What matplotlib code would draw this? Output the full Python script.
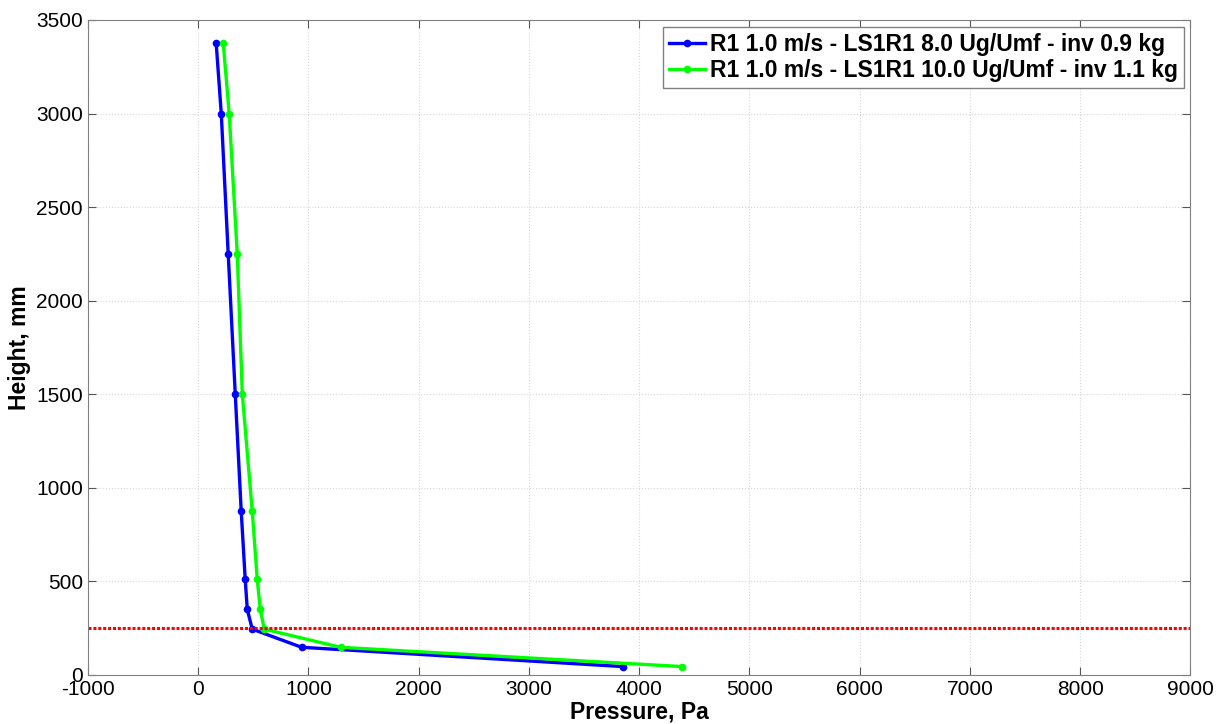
import numpy as np
import matplotlib.pyplot as plt

plt.rcParams['font.family'] = ['Liberation Sans', 'DejaVu Sans']
plt.rcParams['axes.unicode_minus'] = False

# pressure profiles along the riser
height = [3375, 3000, 2250, 1500, 875, 513, 350, 245, 148, 45]
p_8ug = [163, 209, 272, 336, 390, 426, 445, 490, 938, 3850]
p_10ug = [227, 281, 354, 400, 490, 535, 563, 599, 1291, 4386]
h_ref = 250

labels = ['R1 1.0 m/s - LS1R1 8.0 Ug/Umf - inv 0.9 kg',
          'R1 1.0 m/s - LS1R1 10.0 Ug/Umf - inv 1.1 kg']

fig = plt.figure(figsize=(12.27, 7.24), dpi=100)
ax = fig.add_axes([0.0717, 0.0677, 0.8985, 0.9047])

ax.plot(p_8ug, height, color='#0000ff', lw=2.4, marker='o', ms=4.5, label=labels[0])
ax.plot(p_10ug, height, color='#00ff00', lw=2.4, marker='o', ms=4.5, label=labels[1])
ax.axhline(h_ref, color='red', lw=2.2, ls=(0, (1, 0.6)))

ax.set_xlim(-1000, 9000)
ax.set_ylim(0, 3500)
ax.set_xticks(np.arange(-1000, 9001, 1000))
ax.set_yticks(np.arange(0, 3501, 500))
ax.grid(True, color='#d8d8d8', ls=':', lw=0.8)
ax.tick_params(direction='in', top=True, right=True, labelsize=15, length=6, color='#555555')
for s in ax.spines.values():
    s.set_color('#808080')

ax.set_xlabel('Pressure, Pa', fontsize=16.5, fontweight='bold', labelpad=1)
ax.set_ylabel('Height, mm', fontsize=16.5, fontweight='bold', labelpad=4)

leg = ax.legend(loc='upper right', prop={'weight': 'bold', 'size': 16.5},
                fancybox=False, edgecolor='#808080', framealpha=1,
                handlelength=1.6, handletextpad=0.2, borderpad=0.25,
                labelspacing=0.15, borderaxespad=0.3)
leg.get_frame().set_linewidth(1.0)

fig.savefig('out.png', dpi=100)
